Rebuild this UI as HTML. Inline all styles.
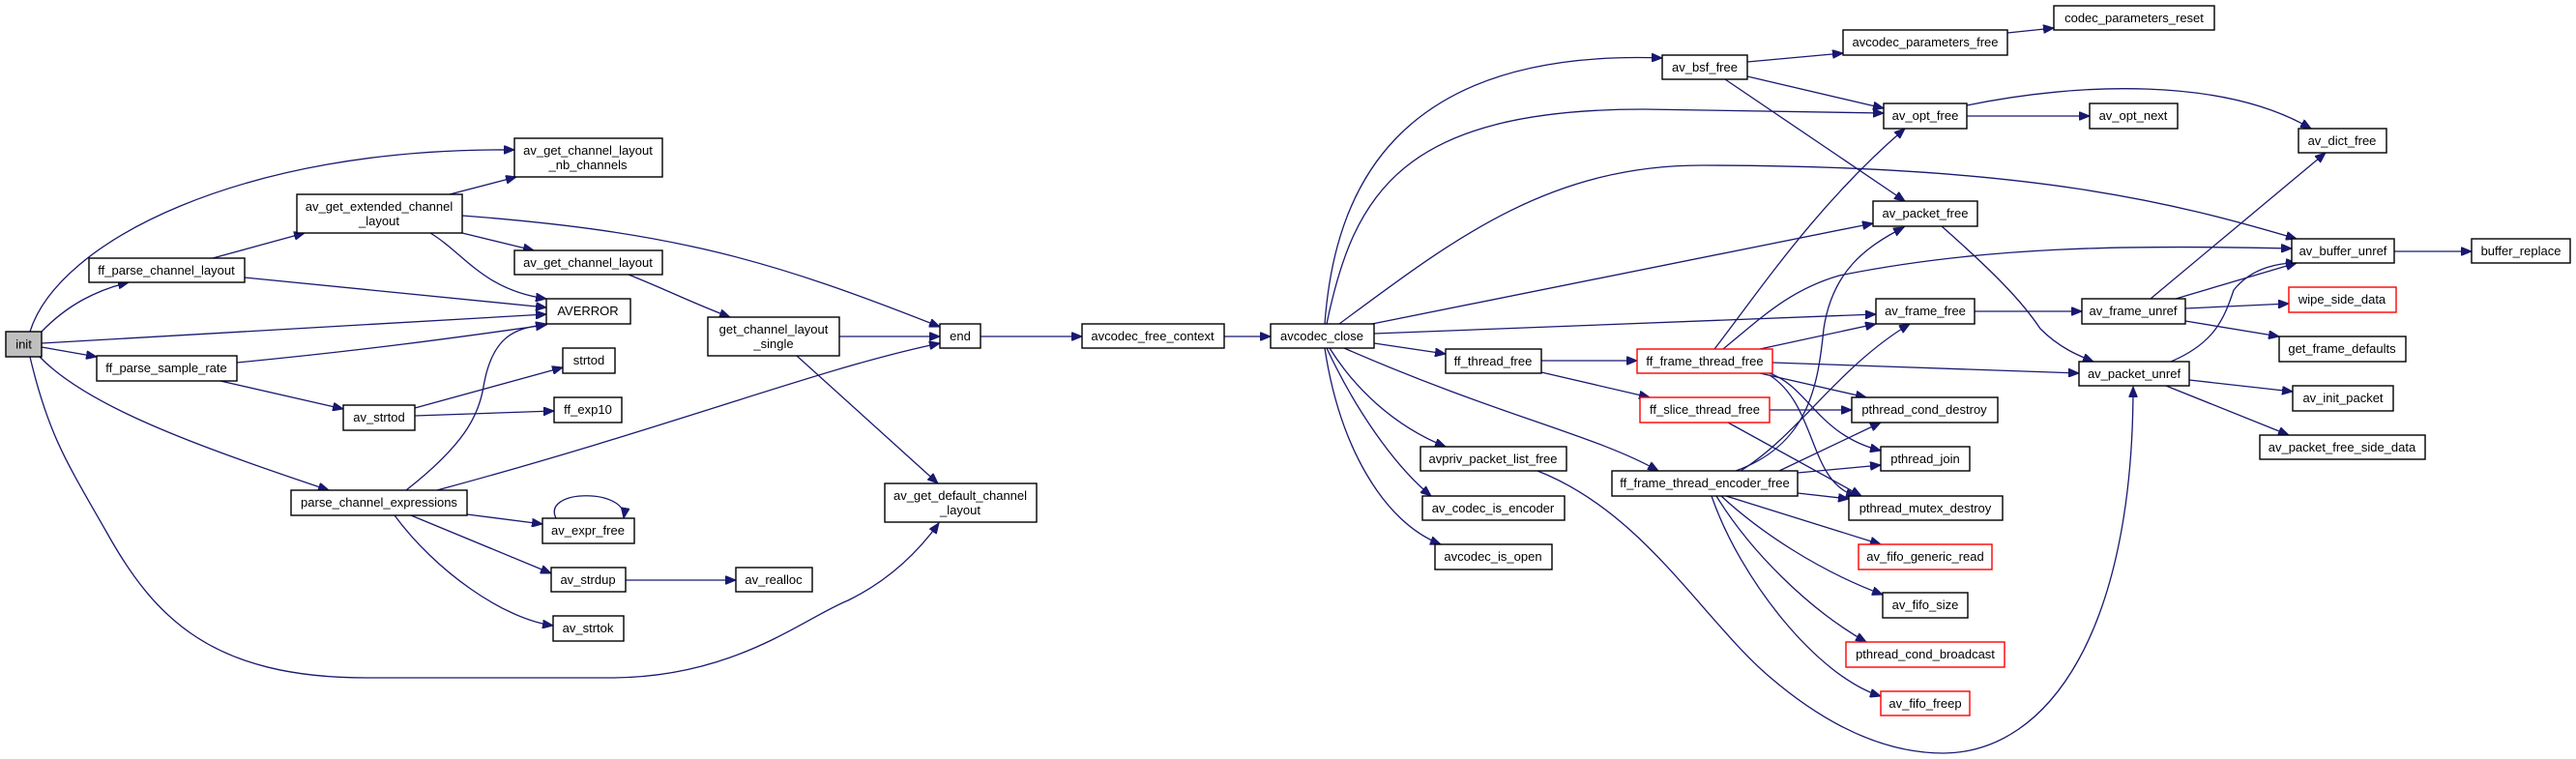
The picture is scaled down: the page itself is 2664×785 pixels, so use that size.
<!DOCTYPE html>
<html><head><meta charset="utf-8"><style>
html,body{margin:0;padding:0;background:#fff}
svg{display:block}
text{font-family:"Liberation Sans",Arial,sans-serif;font-size:13px;fill:#000;text-anchor:middle}
.e{fill:none;stroke:#191970;stroke-width:1.3}
.n{fill:#fff;stroke:#000;stroke-width:1.4}
.r{fill:#fff;stroke:#ff0000;stroke-width:1.4}
</style></head><body>
<svg width="2664" height="785" viewBox="0 0 2664 785" xmlns="http://www.w3.org/2000/svg">
<defs><marker id="a" markerWidth="12" markerHeight="9" refX="11" refY="4.5" orient="auto" markerUnits="userSpaceOnUse"><path d="M0,0 L11,4.5 L0,9 z" fill="#191970" stroke="#191970"/></marker></defs>
<g marker-end="url(#a)">
<path class="e" d="M31,343 C60,250 250,152 532,155"/>
<path class="e" d="M43,343 C70,315 100,300 133,292"/>
<path class="e" d="M43,355 L565,325"/>
<path class="e" d="M43,359 L100,369"/>
<path class="e" d="M41,369 C90,420 200,460 340,507"/>
<path class="e" d="M31,369 C50,450 70,480 110,550 C160,640 220,701 379,701 L631,701 C760,701 830,640 877,621 C920,600 950,570 971,541"/>
<path class="e" d="M220,267 L315,241"/>
<path class="e" d="M253,287 L565,318"/>
<path class="e" d="M245,375 C400,360 500,345 565,336"/>
<path class="e" d="M228,394 L355,423"/>
<path class="e" d="M465,201 L534,183"/>
<path class="e" d="M478,241 L552,259"/>
<path class="e" d="M445,241 C480,262 500,300 565,309"/>
<path class="e" d="M478,223 C700,240 800,270 972,338"/>
<path class="e" d="M650,284 C690,300 720,315 755,328"/>
<path class="e" d="M868,348 L972,348"/>
<path class="e" d="M824,368 L970,500"/>
<path class="e" d="M429,422 L582,380"/>
<path class="e" d="M429,430 L573,425"/>
<path class="e" d="M420,507 C480,460 495,430 500,400 C510,340 540,340 565,335"/>
<path class="e" d="M452,507 C700,440 850,380 972,355"/>
<path class="e" d="M483,532 L561,542"/>
<path class="e" d="M425,533 L570,593"/>
<path class="e" d="M408,533 C450,590 520,640 572,647"/>
<path class="e" d="M575,536 C560,505 650,505 645,536"/>
<path class="e" d="M647,600 L761,600"/>
<path class="e" d="M1014,348 L1119,348"/>
<path class="e" d="M1266,348 L1314,348"/>
<path class="e" d="M1370,335 C1380,200 1440,50 1719,60"/>
<path class="e" d="M1372,335 C1400,200 1450,113 1700,113 L1948,117"/>
<path class="e" d="M1385,335 C1500,250 1600,171 1760,171 C2100,171 2250,210 2375,247"/>
<path class="e" d="M1419,335 L1937,231"/>
<path class="e" d="M1421,345 L1940,325"/>
<path class="e" d="M1421,355 L1495,366"/>
<path class="e" d="M1375,360 C1400,400 1440,440 1495,462"/>
<path class="e" d="M1372,360 C1400,420 1440,480 1480,513"/>
<path class="e" d="M1370,360 C1385,460 1430,540 1490,563"/>
<path class="e" d="M1390,360 C1550,430 1650,450 1715,487"/>
<path class="e" d="M1594,373 L1693,373"/>
<path class="e" d="M1594,385 L1706,411"/>
<path class="e" d="M1830,424 L1915,424"/>
<path class="e" d="M1787,437 L1925,513"/>
<path class="e" d="M1773,361 C1820,300 1880,210 1970,133"/>
<path class="e" d="M1782,361 C1820,330 1850,300 1902,285 C2050,255 2200,253 2370,257"/>
<path class="e" d="M1820,361 L1940,335"/>
<path class="e" d="M1833,375 L2150,386"/>
<path class="e" d="M1820,386 L1930,411"/>
<path class="e" d="M1830,386 C1870,400 1880,450 1945,466"/>
<path class="e" d="M1830,388 C1880,420 1870,500 1920,513"/>
<path class="e" d="M1795,487 C1870,460 1880,400 1886,340 C1895,280 1930,255 1969,235"/>
<path class="e" d="M1800,487 C1860,450 1900,380 1975,335"/>
<path class="e" d="M1840,487 L1945,437"/>
<path class="e" d="M1859,489 L1945,481"/>
<path class="e" d="M1859,510 L1912,516"/>
<path class="e" d="M1785,513 L1945,563"/>
<path class="e" d="M1780,513 C1820,550 1880,590 1947,615"/>
<path class="e" d="M1775,513 C1810,570 1870,630 1930,664"/>
<path class="e" d="M1770,513 C1800,600 1880,700 1945,720"/>
<path class="e" d="M1590,487 C1700,530 1760,640 1830,700 C1900,760 1960,779 2010,779 C2120,778 2206,650 2206,400"/>
<path class="e" d="M1807,64 L1906,55"/>
<path class="e" d="M1807,79 L1948,112"/>
<path class="e" d="M1784,82 L1970,208"/>
<path class="e" d="M2076,34 L2124,29"/>
<path class="e" d="M2034,120 L2161,120"/>
<path class="e" d="M2034,109 C2150,85 2300,80 2390,133"/>
<path class="e" d="M2008,234 C2060,280 2090,310 2110,340 C2130,360 2150,368 2165,374"/>
<path class="e" d="M2042,322 L2153,322"/>
<path class="e" d="M2224,309 L2405,158"/>
<path class="e" d="M2250,309 L2375,272"/>
<path class="e" d="M2260,319 L2367,314"/>
<path class="e" d="M2260,332 L2357,348"/>
<path class="e" d="M2245,374 C2290,355 2300,330 2310,300 C2330,275 2360,272 2375,272"/>
<path class="e" d="M2264,393 L2371,405"/>
<path class="e" d="M2240,399 L2367,450"/>
<path class="e" d="M2476,260 L2556,260"/>
</g>
<rect x="6" y="343" width="37" height="26" fill="#bfbfbf" stroke="#000" stroke-width="1.4"/><text x="24.5" y="360.5">init</text>
<rect class="n" x="532" y="143" width="153" height="40"/><text x="608" y="160">av_get_channel_layout</text><text x="608" y="175">_nb_channels</text>
<rect class="n" x="307" y="201" width="171" height="40"/><text x="392" y="218">av_get_extended_channel</text><text x="392" y="233">_layout</text>
<rect class="n" x="92" y="267" width="161" height="25"/><text x="172" y="284">ff_parse_channel_layout</text>
<rect class="n" x="532" y="259" width="153" height="25"/><text x="608" y="276">av_get_channel_layout</text>
<rect class="n" x="565" y="309" width="87" height="26"/><text x="608" y="326">AVERROR</text>
<rect class="n" x="732" y="328" width="136" height="40"/><text x="800" y="345">get_channel_layout</text><text x="800" y="360">_single</text>
<rect class="n" x="972" y="335" width="42" height="25"/><text x="993" y="352">end</text>
<rect class="n" x="100" y="368" width="145" height="26"/><text x="172" y="385">ff_parse_sample_rate</text>
<rect class="n" x="582" y="360" width="54" height="26"/><text x="609" y="377">strtod</text>
<rect class="n" x="355" y="419" width="74" height="26"/><text x="392" y="436">av_strtod</text>
<rect class="n" x="573" y="411" width="70" height="26"/><text x="608" y="428">ff_exp10</text>
<rect class="n" x="301" y="507" width="182" height="26"/><text x="392" y="524">parse_channel_expressions</text>
<rect class="n" x="915" y="500" width="157" height="40"/><text x="993" y="517">av_get_default_channel</text><text x="993" y="532">_layout</text>
<rect class="n" x="561" y="536" width="95" height="26"/><text x="608" y="553">av_expr_free</text>
<rect class="n" x="570" y="587" width="77" height="25"/><text x="608" y="604">av_strdup</text>
<rect class="n" x="761" y="587" width="79" height="25"/><text x="800" y="604">av_realloc</text>
<rect class="n" x="572" y="637" width="73" height="26"/><text x="608" y="654">av_strtok</text>
<rect class="n" x="1119" y="335" width="147" height="25"/><text x="1192" y="352">avcodec_free_context</text>
<rect class="n" x="1314" y="335" width="107" height="25"/><text x="1367" y="352">avcodec_close</text>
<rect class="n" x="1719" y="57" width="88" height="25"/><text x="1763" y="74">av_bsf_free</text>
<rect class="n" x="1495" y="361" width="99" height="25"/><text x="1544" y="378">ff_thread_free</text>
<rect class="r" x="1693" y="361" width="140" height="25"/><text x="1763" y="378">ff_frame_thread_free</text>
<rect class="r" x="1696" y="411" width="134" height="26"/><text x="1763" y="428">ff_slice_thread_free</text>
<rect class="n" x="1469" y="462" width="151" height="25"/><text x="1544" y="479">avpriv_packet_list_free</text>
<rect class="n" x="1667" y="487" width="192" height="26"/><text x="1763" y="504">ff_frame_thread_encoder_free</text>
<rect class="n" x="1471" y="513" width="147" height="25"/><text x="1544" y="530">av_codec_is_encoder</text>
<rect class="n" x="1484" y="563" width="121" height="26"/><text x="1544" y="580">avcodec_is_open</text>
<rect class="n" x="2124" y="6" width="166" height="25"/><text x="2207" y="23">codec_parameters_reset</text>
<rect class="n" x="1906" y="31" width="170" height="26"/><text x="1991" y="48">avcodec_parameters_free</text>
<rect class="n" x="1948" y="107" width="86" height="26"/><text x="1991" y="124">av_opt_free</text>
<rect class="n" x="2161" y="107" width="91" height="26"/><text x="2206" y="124">av_opt_next</text>
<rect class="n" x="2377" y="133" width="91" height="25"/><text x="2422" y="150">av_dict_free</text>
<rect class="n" x="1937" y="208" width="108" height="26"/><text x="1991" y="225">av_packet_free</text>
<rect class="n" x="2370" y="247" width="106" height="25"/><text x="2423" y="264">av_buffer_unref</text>
<rect class="n" x="2556" y="247" width="102" height="25"/><text x="2607" y="264">buffer_replace</text>
<rect class="n" x="1940" y="309" width="102" height="26"/><text x="1991" y="326">av_frame_free</text>
<rect class="n" x="2153" y="309" width="107" height="26"/><text x="2206" y="326">av_frame_unref</text>
<rect class="r" x="2367" y="297" width="111" height="26"/><text x="2422" y="314">wipe_side_data</text>
<rect class="n" x="2357" y="348" width="131" height="26"/><text x="2422" y="365">get_frame_defaults</text>
<rect class="n" x="2150" y="374" width="114" height="25"/><text x="2207" y="391">av_packet_unref</text>
<rect class="n" x="2371" y="399" width="104" height="26"/><text x="2423" y="416">av_init_packet</text>
<rect class="n" x="2337" y="450" width="171" height="25"/><text x="2422" y="467">av_packet_free_side_data</text>
<rect class="n" x="1915" y="411" width="151" height="26"/><text x="1990" y="428">pthread_cond_destroy</text>
<rect class="n" x="1945" y="462" width="92" height="25"/><text x="1991" y="479">pthread_join</text>
<rect class="n" x="1912" y="513" width="159" height="25"/><text x="1991" y="530">pthread_mutex_destroy</text>
<rect class="r" x="1922" y="563" width="138" height="26"/><text x="1991" y="580">av_fifo_generic_read</text>
<rect class="n" x="1947" y="613" width="88" height="26"/><text x="1991" y="630">av_fifo_size</text>
<rect class="r" x="1909" y="664" width="164" height="26"/><text x="1991" y="681">pthread_cond_broadcast</text>
<rect class="r" x="1945" y="715" width="92" height="25"/><text x="1991" y="732">av_fifo_freep</text>
</svg>
</body></html>
